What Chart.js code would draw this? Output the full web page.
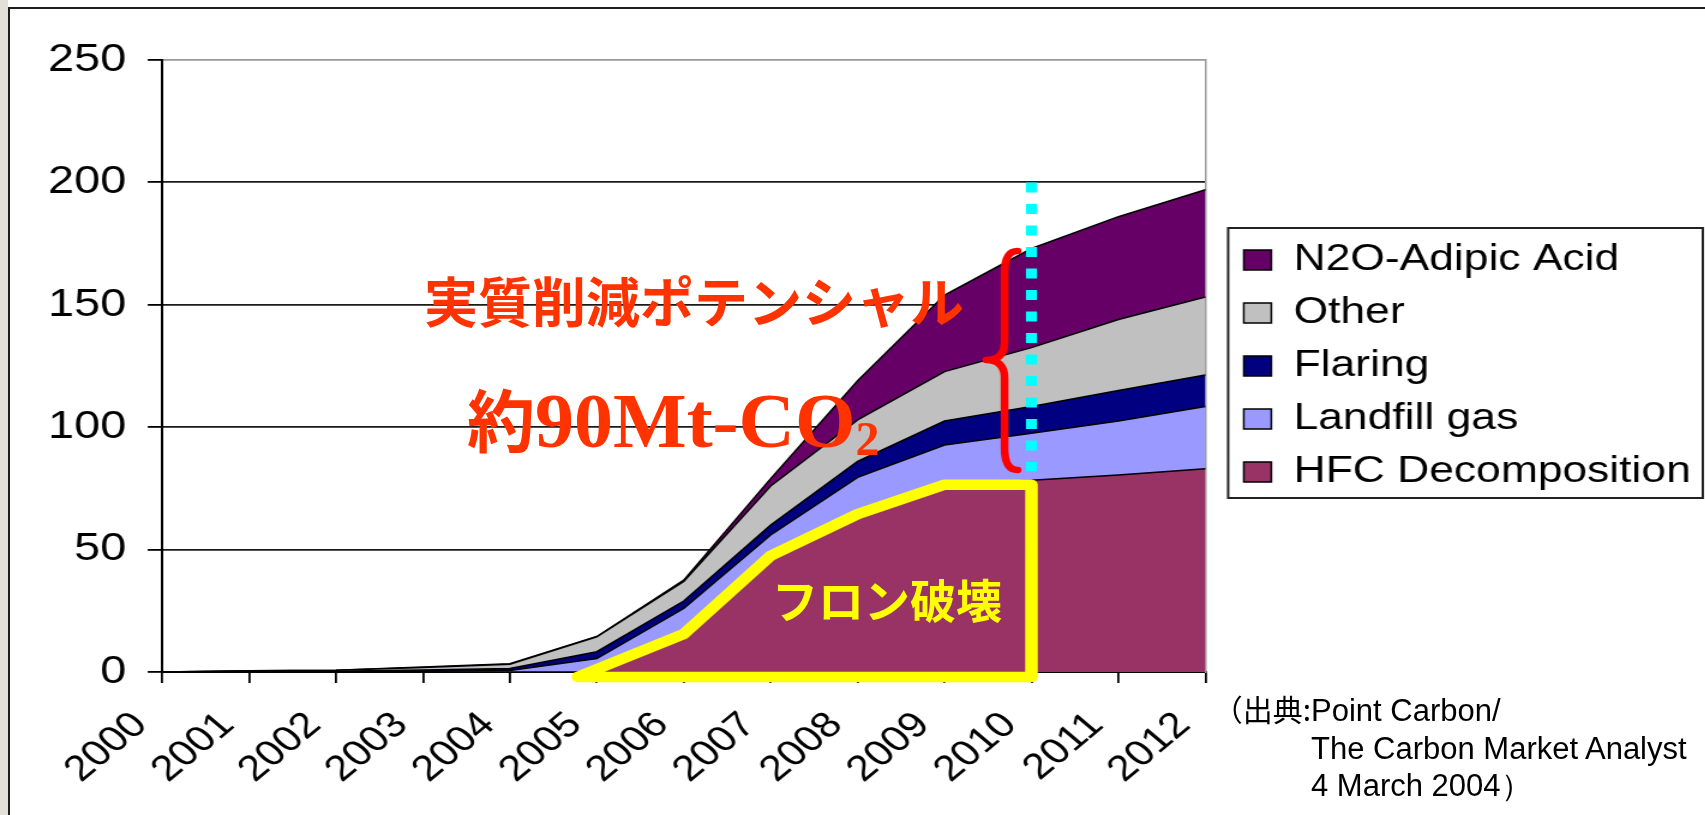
<!DOCTYPE html>
<html lang="ja">
<head>
<meta charset="utf-8">
<title>実質削減ポテンシャル</title>
<script src="https://cdn.jsdelivr.net/npm/chart.js@4.4.1/dist/chart.umd.min.js"></script>
<style>
  html, body { margin: 0; padding: 0; }
  body { width: 1705px; height: 815px; position: relative; overflow: hidden; background: #fff; }
  #edge { position: absolute; left: 0; top: 0; width: 8px; height: 815px; background: #e3e0da; }
  #frame { position: absolute; left: 8px; top: 7px; width: 1720px; height: 830px; border-left: 2px solid #1e1e1e; border-top: 2px solid #1e1e1e; }
  /* the chart is laid out in a narrower canvas and widened 1.2x */
  #stretch { position: absolute; left: 0; top: 0; width: 1421px; height: 815px; transform: scaleX(1.2); transform-origin: 0 0; }
  #chart { display: block; width: 1421px; height: 815px; }
  .note { position: absolute; white-space: nowrap; line-height: 1; font-weight: bold; }
  #potential { left: 424px; top: 273px; font-size: 54px; color: #ff3300; font-family: "Noto Sans CJK JP", sans-serif; }
  #amount { left: 467px; top: 379px; font-size: 78px; line-height: 78px; color: #ff3300; font-family: "Liberation Serif", "Times New Roman", serif; }
  #amount .kanji { font-family: "Noto Sans CJK JP", sans-serif; font-size: 68px; }
  #amount sub { font-size: 48px; vertical-align: -8px; line-height: 0; }
  #freon { left: 772px; top: 575px; font-size: 46px; color: #ffff00; font-family: "Noto Sans CJK JP", sans-serif; }
  #source { position: absolute; left: 1311px; top: 692px; font-size: 31px; line-height: 37.5px; font-family: "Liberation Sans", Arial, sans-serif; color: #000; white-space: nowrap; }
  #sourceHead { position: absolute; right: 394px; top: 690px; font-size: 30px; line-height: 37.5px; font-family: "Noto Sans CJK JP", sans-serif; color: #000; white-space: nowrap; }
</style>
</head>
<body>
<div id="edge"></div>
<div id="frame"></div>
<div id="stretch"><canvas id="chart" width="1421" height="815"></canvas></div>

<div class="note" id="potential">実質削減ポテンシャル</div>
<div class="note" id="amount"><span class="kanji">約</span>90Mt-CO<sub>2</sub></div>
<div class="note" id="freon">フロン破壊</div>
<div id="sourceHead">（出典:</div>
<div id="source">Point Carbon/<br>The Carbon Market Analyst<br>4 March 2004）</div>

<script>
const years = ['2000', '2001', '2002', '2003', '2004', '2005', '2006', '2007', '2008', '2009', '2010', '2011', '2012'];

// Mt-CO2 per year, stacked from the bottom up
const hfcDecomposition = [0, 0, 0, 0, 0, 0, 15, 46, 64, 77, 78.3, 80.5, 83];
const landfillGas      = [0, 0, 0.1, 0.3, 0.6, 5.5, 11, 10, 15.5, 15.7, 19.2, 22, 25.5];
const flaring          = [0, 0.2, 0.2, 0.5, 0.8, 2.8, 3, 4, 6.5, 9.8, 11, 12.5, 12.8];
const otherSources     = [0, 0.3, 0.4, 1.0, 1.8, 6.1, 8, 16, 17, 20.2, 24, 29, 31.9];
const n2oAdipicAcid    = [0, 0, 0, 0.2, 0.2, 0.1, 0.5, 3, 16, 31.3, 40.5, 42, 43.8];

const seriesLabels = ['HFC Decomposition', 'Landfill gas', 'Flaring', 'Other', 'N2O-Adipic Acid'];
const seriesColors = ['#993366', '#9999ff', '#000080', '#c0c0c0', '#660066'];
const yTicks = [0, 50, 100, 150, 200, 250];

// marker outline around the HFC block (category index, value)
const freonOutlineX = [4.78, 6, 7, 8, 9, 10, 10];
const freonOutlineY = [-2, 15.5, 47.5, 64.5, 76.5, 76.5, -2];
// brace spanning the non-HFC part in 2010, and the 2010 guide line
const braceX = { tip: 9.48, stem: 9.69, end: 9.84 };
const braceY = { top: 172, mid: 127.5, bottom: 82.5 };
const guideX = 10;
const guideY = [200, 82];

Chart.defaults.font.family = "'Liberation Sans', Arial, sans-serif";
Chart.defaults.color = '#000';

const stackedSeries = [hfcDecomposition, landfillGas, flaring, otherSources, n2oAdipicAcid];

const datasets = stackedSeries.map((values, i) => ({
  label: seriesLabels[i],
  data: values,
  backgroundColor: seriesColors[i],
  borderColor: '#000',
  borderWidth: 1.5,
  fill: i === 0 ? 'origin' : '-1',
  pointRadius: 0,
  tension: 0
}));

const legendFrame = {
  id: 'legendFrame',
  afterDraw(chart) {
    const boxes = chart.legend.legendHitBoxes;
    if (!boxes || !boxes.length) return;
    const first = boxes[0];
    const last = boxes[boxes.length - 1];
    const left = first.left - 13;
    const top = first.top + first.height / 2 - 32;
    const bottom = last.top + last.height / 2 + 26;
    const right = chart.width - 2;
    const ctx = chart.ctx;
    ctx.save();
    ctx.strokeStyle = '#222';
    ctx.lineWidth = 2;
    ctx.strokeRect(left, top, right - left, bottom - top);
    ctx.restore();
  }
};

const markup = {
  id: 'markup',
  afterDraw(chart) {
    const { ctx } = chart;
    const x = chart.scales.x;
    const y = chart.scales.y;
    ctx.save();

    // dotted guide at 2010
    ctx.strokeStyle = '#00ffff';
    ctx.lineWidth = 9.2;
    ctx.setLineDash([10, 11.5]);
    ctx.beginPath();
    ctx.moveTo(x.getPixelForValue(guideX), y.getPixelForValue(guideY[0]));
    ctx.lineTo(x.getPixelForValue(guideX), y.getPixelForValue(guideY[1]));
    ctx.stroke();
    ctx.setLineDash([]);

    // yellow outline of the HFC block
    ctx.strokeStyle = '#ffff00';
    ctx.lineWidth = 10.5;
    ctx.lineJoin = 'round';
    ctx.lineCap = 'round';
    ctx.beginPath();
    freonOutlineX.forEach((v, i) => {
      const px = x.getPixelForValue(v);
      const py = y.getPixelForValue(freonOutlineY[i]);
      if (i === 0) ctx.moveTo(px, py); else ctx.lineTo(px, py);
    });
    ctx.closePath();
    ctx.stroke();

    // red brace
    const xs = x.getPixelForValue(braceX.stem);
    const xt = x.getPixelForValue(braceX.tip);
    const xe = x.getPixelForValue(braceX.end);
    const yt = y.getPixelForValue(braceY.top);
    const ym = y.getPixelForValue(braceY.mid);
    const yb = y.getPixelForValue(braceY.bottom);
    ctx.strokeStyle = '#ff0000';
    ctx.lineWidth = 6.5;
    ctx.lineCap = 'round';
    ctx.beginPath();
    ctx.moveTo(xe, yt);
    ctx.quadraticCurveTo(xs, yt, xs, yt + 22);
    ctx.lineTo(xs, ym - 18);
    ctx.quadraticCurveTo(xs, ym, xt, ym);
    ctx.quadraticCurveTo(xs, ym, xs, ym + 18);
    ctx.lineTo(xs, yb - 22);
    ctx.quadraticCurveTo(xs, yb, xe, yb);
    ctx.stroke();

    ctx.restore();
  }
};

new Chart(document.getElementById('chart'), {
  type: 'line',
  data: { labels: years, datasets: datasets },
  options: {
    responsive: false,
    animation: false,
    devicePixelRatio: 1,
    layout: { padding: { left: 22, top: 60, right: 2, bottom: 0 } },
    plugins: {
      tooltip: { enabled: false },
      legend: {
        position: 'right',
        fullSize: false,
        reverse: true,
        maxWidth: 420,
        labels: {
          boxWidth: 23,
          boxHeight: 20,
          padding: 16,
          color: '#000',
          font: { size: 37 }
        }
      }
    },
    scales: {
      x: {
        offset: false,
        grid: { drawOnChartArea: false, tickLength: 11, tickColor: '#000', lineWidth: 1.8 },
        border: { color: '#000', width: 2 },
        ticks: { maxRotation: 45, minRotation: 45, padding: 21, labelOffset: -18, color: '#000', font: { size: 36 } },
        afterFit(scale) { scale.height = 143; }
      },
      y: {
        stacked: true,
        min: 0,
        max: 250,
        afterBuildTicks(scale) { scale.ticks = yTicks.map(v => ({ value: v })); },
        grid: {
          color: ctx => (ctx.tick && ctx.tick.value === 250 ? '#999' : '#1a1a1a'),
          tickColor: '#000',
          tickLength: 12,
          lineWidth: 1.8
        },
        border: { color: '#000', width: 2 },
        ticks: { padding: 18, color: '#000', font: { size: 39 } }
      },
      yRight: {
        position: 'right',
        min: 0,
        max: 250,
        grid: { drawOnChartArea: false, drawTicks: false },
        border: { color: '#999', width: 1.5 },
        ticks: { display: false },
        afterFit(scale) { scale.width = 16; }
      }
    }
  },
  plugins: [legendFrame, markup]
});
</script>
</body>
</html>
